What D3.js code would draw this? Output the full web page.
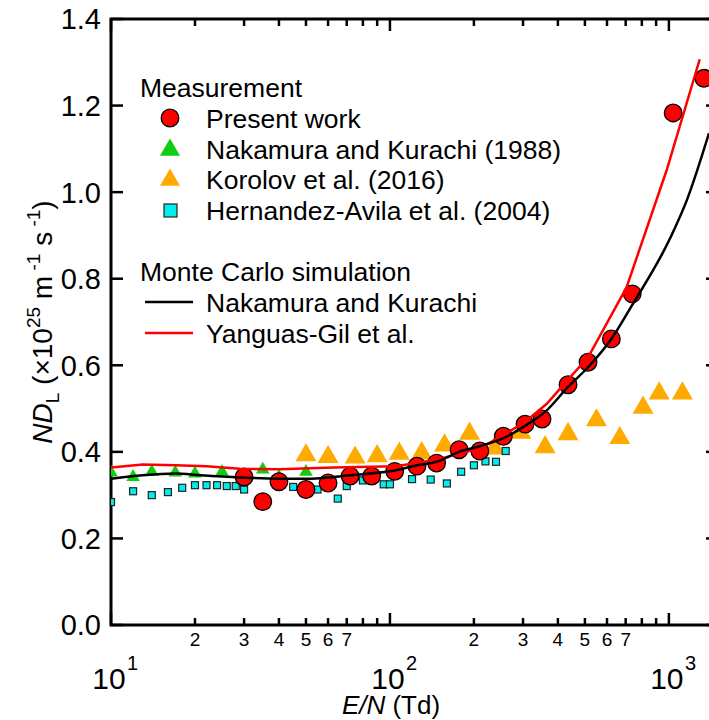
<!DOCTYPE html>
<html>
<head>
<meta charset="utf-8">
<script src="https://cdn.jsdelivr.net/npm/d3@7/dist/d3.min.js"></script>
<style>
  body { margin: 0; background: #fff; }
  text { font-family: "Liberation Sans", Arial, sans-serif; fill: #000; }
</style>
</head>
<body>
<div id="chart"></div>
<script>
// Measurement data (E/N in Td, N*D_L in 1e25 m^-1 s^-1)
const presentE = [30, 35, 40, 50, 60, 72, 86, 104, 125, 147, 177, 210, 255, 305, 351, 435, 513, 622, 739, 1036, 1335];
const presentVal = [0.342, 0.285, 0.331, 0.313, 0.328, 0.344, 0.344, 0.355, 0.367, 0.374, 0.405, 0.402, 0.436, 0.464, 0.476, 0.555, 0.607, 0.661, 0.765, 1.183, 1.263];

const nakamuraE = [10, 12, 14, 17, 20, 25, 35, 40, 50];
const nakamuraVal = [0.352, 0.342, 0.354, 0.352, 0.350, 0.354, 0.359, 0.342, 0.354];

const korolovE = [50, 60, 75, 90, 108, 130, 157, 193, 237, 295, 360, 435, 550, 667, 808, 923, 1118];
const korolovVal = [0.392, 0.388, 0.387, 0.390, 0.396, 0.397, 0.415, 0.442, 0.408, 0.444, 0.411, 0.441, 0.473, 0.432, 0.502, 0.535, 0.535];

const hernandezE = [10, 12, 14, 16, 18, 20, 22, 24, 26, 28, 30, 40, 45, 55, 65, 70, 80, 95, 100, 120, 140, 160, 180, 200, 220, 240, 260];
const hernandezVal = [0.284, 0.309, 0.300, 0.307, 0.317, 0.323, 0.323, 0.323, 0.321, 0.321, 0.313, 0.325, 0.319, 0.313, 0.292, 0.321, 0.334, 0.325, 0.325, 0.337, 0.336, 0.327, 0.354, 0.369, 0.378, 0.377, 0.402];

// Monte Carlo simulations
const mcNakE = [10, 13, 17, 21, 29, 40, 50, 61, 72, 104, 125, 147, 177, 210, 254, 305, 365, 435, 514, 621, 740, 1013, 1159, 1392];
const mcNakVal = [0.338, 0.346, 0.350, 0.346, 0.341, 0.338, 0.338, 0.341, 0.346, 0.357, 0.369, 0.377, 0.400, 0.413, 0.431, 0.460, 0.496, 0.550, 0.596, 0.660, 0.740, 0.895, 0.981, 1.136];

const mcYanE = [10, 13, 17, 22, 29, 40, 63, 105, 147, 210, 254, 305, 365, 435, 514, 705, 981, 1290];
const mcYanVal = [0.364, 0.371, 0.369, 0.367, 0.361, 0.360, 0.364, 0.367, 0.382, 0.408, 0.438, 0.469, 0.511, 0.567, 0.619, 0.780, 1.050, 1.307];

const yTicks = [0.0, 0.2, 0.4, 0.6, 0.8, 1.0, 1.2, 1.4];
const xMajor = [10, 100, 1000];
const minorDigits = [2, 3, 4, 5, 6, 7];

const W = 709, H = 720;
const pL = 111, pR = 718, pT = 19, pB = 625;

const svg = d3.select("#chart").append("svg")
  .attr("width", W).attr("height", H);

const x = d3.scaleLog().domain([10, 1500]).range([pL, pR]);
const y = d3.scaleLinear().domain([0, 1.4]).range([pB, pT]);

const zip = (a, b) => a.map((v, i) => ({e: v, v: b[i]}));

// all minor ticks in range
const minorTicks = [];
[10, 100, 1000].forEach(d => {
  for (let k = 2; k <= 9; k++) if (d * k <= 1500) minorTicks.push(d * k);
});

const axes = svg.append("g").attr("stroke", "#000").attr("stroke-width", 2.5);

// x ticks bottom and top
xMajor.forEach(v => {
  axes.append("line").attr("x1", x(v)).attr("x2", x(v)).attr("y1", pB).attr("y2", pB - 12);
  axes.append("line").attr("x1", x(v)).attr("x2", x(v)).attr("y1", pT).attr("y2", pT + 12);
});
minorTicks.forEach(v => {
  axes.append("line").attr("x1", x(v)).attr("x2", x(v)).attr("y1", pB).attr("y2", pB - 7);
  axes.append("line").attr("x1", x(v)).attr("x2", x(v)).attr("y1", pT).attr("y2", pT + 7);
});
// y ticks left and right
yTicks.forEach(v => {
  axes.append("line").attr("x1", pL).attr("x2", pL + 12).attr("y1", y(v)).attr("y2", y(v));
  axes.append("line").attr("x1", pR).attr("x2", pR - 12).attr("y1", y(v)).attr("y2", y(v));
});

// frame
svg.append("rect")
  .attr("x", pL).attr("y", pT)
  .attr("width", pR - pL).attr("height", pB - pT)
  .attr("fill", "none").attr("stroke", "#000").attr("stroke-width", 3);

// y tick labels
svg.append("g").selectAll("text").data(yTicks).join("text")
  .attr("x", pL - 10).attr("y", d => y(d))
  .attr("dy", "0.36em")
  .attr("text-anchor", "end")
  .style("font-size", "29px")
  .text(d => d.toFixed(1));

// x minor labels
const minorLab = [];
[10, 100].forEach(d => minorDigits.forEach(k => minorLab.push({v: d * k, k: k})));
svg.append("g").selectAll("text").data(minorLab).join("text")
  .attr("x", d => x(d.v)).attr("y", 646)
  .attr("text-anchor", "middle")
  .style("font-size", "19px")
  .text(d => d.k);

// x major labels 10^n
xMajor.forEach((v, i) => {
  svg.append("text")
    .attr("x", x(v) - 2).attr("y", 689)
    .attr("text-anchor", "middle")
    .style("font-size", "30px")
    .text("10");
  svg.append("text")
    .attr("x", x(v) + 16).attr("y", 670)
    .style("font-size", "20px")
    .text(i + 1);
});

// axis titles
const xt = svg.append("text")
  .attr("x", 391).attr("y", 714)
  .attr("text-anchor", "middle")
  .style("font-size", "26px");
xt.append("tspan").style("font-style", "italic").text("E/N");
xt.append("tspan").text(" (Td)");

const yt = svg.append("text")
  .attr("transform", "translate(52,322) rotate(-90)")
  .attr("text-anchor", "middle")
  .style("font-size", "28px");
yt.append("tspan").style("font-style", "italic").text("ND");
yt.append("tspan").attr("dy", 7).style("font-size", "19px").text("L");
yt.append("tspan").attr("dy", -7).text(" (×10");
yt.append("tspan").attr("dy", -12).style("font-size", "19px").text("25");
yt.append("tspan").attr("dy", 12).text(" m");
yt.append("tspan").attr("dy", -12).style("font-size", "19px").text(" -1");
yt.append("tspan").attr("dy", 12).text(" s");
yt.append("tspan").attr("dy", -12).style("font-size", "19px").text(" -1");
yt.append("tspan").attr("dy", 12).text(")");

// clip to the plot area
svg.append("clipPath").attr("id", "plotclip")
  .append("rect").attr("x", pL).attr("y", pT)
  .attr("width", pR - pL).attr("height", pB - pT);
const plot = svg.append("g").attr("clip-path", "url(#plotclip)");

const triBig = d3.symbol().type(d3.symbolTriangle).size(190);
const triSmall = d3.symbol().type(d3.symbolTriangle).size(80);
const triLegend = d3.symbol().type(d3.symbolTriangle).size(175);

// Korolov et al. (2016)
plot.append("g").selectAll("path").data(zip(korolovE, korolovVal)).join("path")
  .attr("d", triBig)
  .attr("transform", d => `translate(${x(d.e)},${y(d.v)})`)
  .attr("fill", "#ffaa00");

// Nakamura and Kurachi (1988)
plot.append("g").selectAll("path").data(zip(nakamuraE, nakamuraVal)).join("path")
  .attr("d", triSmall)
  .attr("transform", d => `translate(${x(d.e)},${y(d.v)})`)
  .attr("fill", "#11cc11");

// Hernandez-Avila et al. (2004)
plot.append("g").selectAll("rect").data(zip(hernandezE, hernandezVal)).join("rect")
  .attr("x", d => x(d.e) - 3.5).attr("y", d => y(d.v) - 3.5)
  .attr("width", 7).attr("height", 7)
  .attr("fill", "#00eeee").attr("stroke", "#222").attr("stroke-width", 1.2);

// Present work
plot.append("g").selectAll("circle").data(zip(presentE, presentVal)).join("circle")
  .attr("cx", d => x(d.e)).attr("cy", d => y(d.v))
  .attr("r", 8.8)
  .attr("fill", "#ff0000").attr("stroke", "#000").attr("stroke-width", 1.3);

const line = d3.line().x(d => x(d.e)).y(d => y(d.v));

plot.append("path").datum(zip(mcYanE, mcYanVal))
  .attr("fill", "none").attr("stroke", "#ff0000").attr("stroke-width", 2.5)
  .attr("d", line);
plot.append("path").datum(zip(mcNakE, mcNakVal))
  .attr("fill", "none").attr("stroke", "#000").attr("stroke-width", 2.5)
  .attr("d", line.curve(d3.curveMonotoneX));

// legend
const lg = svg.append("g").style("font-size", "26.5px");
lg.append("text").attr("x", 140).attr("y", 87).attr("dy", "0.36em").text("Measurement");
const mItems = [
  {label: "Present work", yy: 118},
  {label: "Nakamura and Kurachi (1988)", yy: 149},
  {label: "Korolov et al. (2016)", yy: 179},
  {label: "Hernandez-Avila et al. (2004)", yy: 210}
];
mItems.forEach(d => lg.append("text").attr("x", 206).attr("y", d.yy).attr("dy", "0.36em").text(d.label));
lg.append("circle").attr("cx", 170).attr("cy", 118).attr("r", 8.8)
  .attr("fill", "#ff0000").attr("stroke", "#000").attr("stroke-width", 1.3);
lg.append("path").attr("d", triLegend()).attr("transform", "translate(170,150)").attr("fill", "#11cc11");
lg.append("path").attr("d", triLegend()).attr("transform", "translate(170,180)").attr("fill", "#ffaa00");
lg.append("rect").attr("x", 164).attr("y", 204).attr("width", 13).attr("height", 13)
  .attr("fill", "#00eeee").attr("stroke", "#222").attr("stroke-width", 1.2);

lg.append("text").attr("x", 140).attr("y", 271).attr("dy", "0.36em").text("Monte Carlo simulation");
lg.append("line").attr("x1", 145).attr("x2", 193).attr("y1", 302).attr("y2", 302)
  .attr("stroke", "#000").attr("stroke-width", 2.5);
lg.append("text").attr("x", 206).attr("y", 302).attr("dy", "0.36em").text("Nakamura and Kurachi");
lg.append("line").attr("x1", 145).attr("x2", 193).attr("y1", 333).attr("y2", 333)
  .attr("stroke", "#ff0000").attr("stroke-width", 2.5);
lg.append("text").attr("x", 206).attr("y", 333).attr("dy", "0.36em").text("Yanguas-Gil et al.");
</script>
</body>
</html>
